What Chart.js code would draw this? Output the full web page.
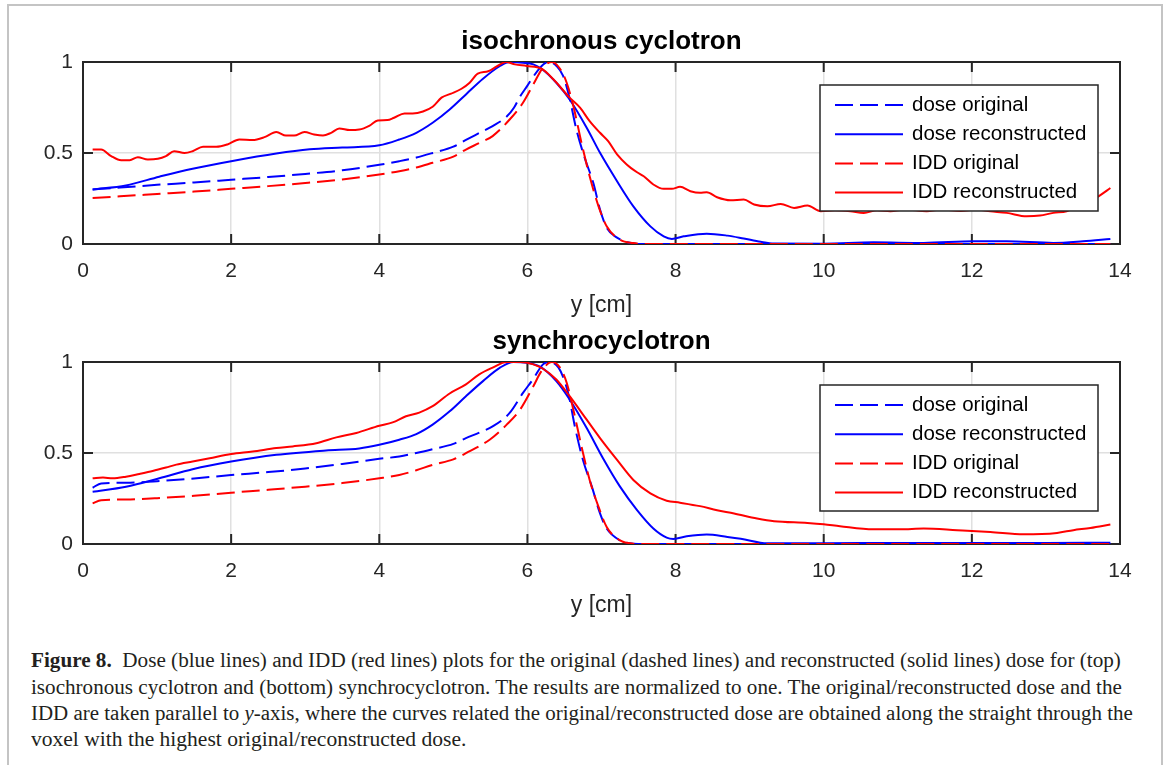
<!DOCTYPE html>
<html>
<head>
<meta charset="utf-8">
<title>Figure 8</title>
<script src="https://cdn.jsdelivr.net/npm/chart.js@4.4.1/dist/chart.umd.min.js"></script>
<style>
  html, body { margin: 0; padding: 0; background: #fff; }
  body { width: 1167px; height: 765px; position: relative; overflow: hidden; }
  #frame { position: absolute; left: 7px; top: 4px; width: 1152px; height: 800px; border: 2px solid #c4c4c4; }
  canvas { position: absolute; left: 0; }
  #isoChart { top: 0; }
  #syncChart { top: 300px; }
  .cap {
    position: absolute; left: 31px; white-space: pre; line-height: 1;
    font-family: 'Liberation Serif', 'Times New Roman', serif; font-size: 20px; color: #231f20;
    transform-origin: 0 50%;
  }
</style>
</head>
<body>
<div id="frame"></div>
<canvas id="isoChart" width="1167" height="325"></canvas>
<canvas id="syncChart" width="1167" height="325"></canvas>

<div class="cap" data-w="1090" style="top:650px"><b>Figure 8.</b>  Dose (blue lines) and IDD (red lines) plots for the original (dashed lines) and reconstructed (solid lines) dose for (top)</div>
<div class="cap" data-w="1091" style="top:677px">isochronous cyclotron and (bottom) synchrocyclotron. The results are normalized to one. The original/reconstructed dose and the</div>
<div class="cap" data-w="1102" style="top:703px">IDD are taken parallel to <i>y</i>-axis, where the curves related the original/reconstructed dose are obtained along the straight through the</div>
<div class="cap" data-w="435" style="top:729px">voxel with the highest original/reconstructed dose.</div>

<script>
// ---- data (y in cm, normalized value) ----
const xTicks = [0, 2, 4, 6, 8, 10, 12, 14];
const yTicks = [0, 0.5, 1];
const yTickLabels = ['0', '0.5', '1'];
const seriesLabels = ['dose original', 'dose reconstructed', 'IDD original', 'IDD reconstructed'];

// isochronous cyclotron
const isoDoseOrig = [[0.13,0.30],[0.5,0.31],[1.0,0.325],[1.5,0.338],[2.0,0.353],[2.5,0.368],[3.0,0.385],[3.5,0.405],[4.0,0.435],[4.27,0.455],[4.5,0.475],[4.72,0.50],[5.0,0.535],[5.17,0.572],[5.35,0.61],[5.53,0.648],[5.72,0.70],[5.82,0.75],[5.90,0.81],[6.0,0.87],[6.08,0.92],[6.21,0.985],[6.30,1.0],[6.40,0.975],[6.48,0.925],[6.57,0.80],[6.66,0.63],[6.78,0.465],[6.89,0.335],[6.98,0.19],[7.07,0.09],[7.21,0.035],[7.35,0.01],[7.5,0.0],[13.87,0.0]];
const isoDoseRec = [[0.13,0.30],[0.58,0.322],[1.03,0.37],[1.48,0.414],[2.0,0.455],[2.61,0.497],[3.06,0.52],[3.5,0.53],[4.0,0.542],[4.27,0.574],[4.5,0.611],[4.72,0.666],[4.95,0.739],[5.17,0.822],[5.40,0.908],[5.63,0.978],[5.76,1.0],[5.94,0.996],[6.08,0.987],[6.19,0.963],[6.39,0.886],[6.57,0.794],[6.80,0.639],[6.98,0.501],[7.21,0.345],[7.43,0.207],[7.66,0.097],[7.84,0.042],[7.95,0.028],[8.11,0.042],[8.42,0.057],[8.70,0.046],[8.92,0.03],[9.15,0.012],[9.33,0.003],[10.0,0.002],[10.67,0.009],[11.35,0.006],[12.02,0.015],[12.47,0.015],[13.1,0.006],[13.5,0.015],[13.87,0.028]];
const isoIddOrig = [[0.13,0.253],[0.5,0.262],[1.0,0.275],[1.5,0.288],[2.0,0.303],[2.5,0.318],[3.0,0.335],[3.5,0.355],[4.0,0.382],[4.27,0.40],[4.5,0.42],[4.72,0.446],[5.0,0.48],[5.17,0.519],[5.35,0.555],[5.53,0.593],[5.76,0.684],[5.94,0.776],[6.08,0.877],[6.21,0.969],[6.33,1.0],[6.44,0.963],[6.53,0.886],[6.62,0.758],[6.73,0.556],[6.84,0.372],[6.96,0.207],[7.07,0.097],[7.25,0.024],[7.43,0.005],[7.6,0.0],[13.87,0.0]];
const isoIddRec = [[0.13,0.519],[0.245,0.519],[0.38,0.483],[0.515,0.46],[0.63,0.46],[0.74,0.477],[0.875,0.464],[1.01,0.468],[1.12,0.483],[1.23,0.51],[1.37,0.50],[1.48,0.51],[1.62,0.534],[1.80,0.534],[1.95,0.547],[2.11,0.574],[2.29,0.571],[2.45,0.587],[2.61,0.615],[2.74,0.596],[2.85,0.596],[2.99,0.615],[3.12,0.602],[3.24,0.596],[3.35,0.611],[3.46,0.635],[3.60,0.626],[3.73,0.629],[3.87,0.651],[3.98,0.679],[4.11,0.681],[4.20,0.694],[4.34,0.717],[4.45,0.717],[4.59,0.728],[4.72,0.754],[4.84,0.804],[4.97,0.826],[5.11,0.853],[5.22,0.886],[5.33,0.936],[5.47,0.949],[5.58,0.974],[5.71,1.0],[5.83,0.987],[5.99,0.978],[6.19,0.963],[6.35,0.905],[6.57,0.804],[6.71,0.749],[6.84,0.675],[6.98,0.611],[7.09,0.565],[7.21,0.492],[7.34,0.437],[7.48,0.394],[7.57,0.372],[7.70,0.327],[7.84,0.303],[7.95,0.303],[8.06,0.314],[8.20,0.29],[8.33,0.281],[8.42,0.284],[8.56,0.257],[8.74,0.24],[8.92,0.244],[9.06,0.217],[9.24,0.207],[9.42,0.22],[9.60,0.198],[9.78,0.211],[9.96,0.18],[10.15,0.185],[10.36,0.18],[10.54,0.171],[10.72,0.185],[10.9,0.18],[11.1,0.19],[11.39,0.18],[11.6,0.19],[11.85,0.182],[12.05,0.19],[12.25,0.18],[12.47,0.171],[12.74,0.152],[12.92,0.156],[13.1,0.171],[13.28,0.18],[13.5,0.22],[13.71,0.262],[13.87,0.308]];

// synchrocyclotron
const syncDoseOrig = [[0.13,0.309],[0.245,0.333],[0.58,0.337],[1.0,0.345],[1.5,0.36],[2.0,0.379],[2.5,0.395],[3.0,0.415],[3.5,0.44],[4.0,0.468],[4.27,0.481],[4.5,0.50],[4.72,0.521],[5.0,0.55],[5.17,0.582],[5.35,0.612],[5.53,0.646],[5.76,0.72],[5.94,0.83],[6.08,0.908],[6.21,0.987],[6.30,1.0],[6.42,0.969],[6.51,0.886],[6.57,0.794],[6.64,0.646],[6.75,0.462],[6.87,0.315],[6.98,0.168],[7.07,0.085],[7.25,0.02],[7.43,0.002],[7.6,0.0],[13.87,0.0]];
const syncDoseRec = [[0.13,0.287],[0.58,0.315],[1.03,0.361],[1.48,0.411],[2.0,0.453],[2.61,0.49],[3.28,0.514],[3.73,0.525],[4.0,0.545],[4.27,0.573],[4.5,0.604],[4.72,0.656],[4.95,0.729],[5.17,0.812],[5.40,0.895],[5.63,0.969],[5.81,1.0],[5.99,0.996],[6.17,0.974],[6.39,0.895],[6.57,0.794],[6.80,0.637],[7.02,0.471],[7.25,0.315],[7.48,0.186],[7.70,0.085],[7.88,0.035],[7.97,0.028],[8.15,0.042],[8.42,0.052],[8.70,0.039],[8.88,0.029],[9.24,0.004],[10.0,0.004],[11.0,0.006],[12.0,0.005],[13.0,0.005],[13.87,0.007]];
const syncIddOrig = [[0.13,0.223],[0.245,0.241],[0.58,0.245],[1.0,0.252],[1.5,0.265],[2.0,0.282],[2.5,0.298],[3.0,0.315],[3.5,0.335],[4.0,0.361],[4.27,0.379],[4.5,0.405],[4.72,0.435],[5.0,0.465],[5.17,0.499],[5.49,0.573],[5.72,0.656],[5.90,0.738],[6.08,0.867],[6.19,0.95],[6.33,1.0],[6.44,0.969],[6.53,0.886],[6.62,0.738],[6.73,0.536],[6.84,0.352],[6.96,0.204],[7.07,0.094],[7.25,0.02],[7.43,0.002],[7.6,0.0],[13.87,0.0]];
const syncIddRec = [[0.13,0.361],[0.27,0.365],[0.40,0.361],[0.58,0.37],[0.76,0.385],[0.94,0.401],[1.12,0.42],[1.26,0.436],[1.48,0.453],[1.71,0.471],[2.0,0.494],[2.29,0.508],[2.61,0.527],[2.83,0.536],[3.15,0.554],[3.42,0.586],[3.69,0.61],[4.0,0.65],[4.18,0.668],[4.36,0.702],[4.54,0.722],[4.72,0.757],[4.95,0.827],[5.17,0.877],[5.35,0.932],[5.53,0.969],[5.72,1.0],[5.90,1.0],[6.08,0.987],[6.21,0.963],[6.39,0.904],[6.57,0.812],[6.80,0.683],[6.98,0.582],[7.21,0.462],[7.43,0.352],[7.66,0.278],[7.88,0.238],[8.06,0.227],[8.33,0.208],[8.56,0.186],[8.79,0.168],[9.10,0.14],[9.33,0.125],[9.78,0.116],[10.0,0.109],[10.22,0.098],[10.67,0.081],[11.03,0.081],[11.35,0.085],[11.8,0.076],[12.25,0.066],[12.7,0.053],[13.15,0.061],[13.37,0.076],[13.6,0.088],[13.87,0.107]];

const FONT = "'Liberation Sans', Arial, sans-serif";
const AXIS_COLOR = '#262626';
const DASH = [18, 7];

// matlab style box, inward ticks, centred title and an in-plot legend
const matlabAxes = {
  id: 'matlabAxes',
  beforeDatasetsDraw(chart) {
    const { ctx, chartArea: a, scales: { x, y } } = chart;
    ctx.save();
    ctx.strokeStyle = AXIS_COLOR;
    ctx.lineWidth = 2;
    ctx.strokeRect(a.left, a.top, a.right - a.left, a.bottom - a.top);
    ctx.beginPath();
    xTicks.forEach(v => {
      const px = x.getPixelForValue(v);
      ctx.moveTo(px, a.bottom); ctx.lineTo(px, a.bottom - 10);
      ctx.moveTo(px, a.top); ctx.lineTo(px, a.top + 10);
    });
    yTicks.forEach(v => {
      const py = y.getPixelForValue(v);
      ctx.moveTo(a.left, py); ctx.lineTo(a.left + 10, py);
      ctx.moveTo(a.right, py); ctx.lineTo(a.right - 10, py);
    });
    ctx.stroke();

    ctx.fillStyle = '#000';
    ctx.font = 'bold 26px ' + FONT;
    ctx.textAlign = 'center';
    ctx.textBaseline = 'middle';
    ctx.fillText(chart.options.plugins.matlabAxes.title, (a.left + a.right) / 2, a.top - 20);
    ctx.restore();
  },
  afterDatasetsDraw(chart) {
    const { ctx, chartArea: a } = chart;
    const bx = 820, by = a.top + 23, bw = 278, bh = 126;
    ctx.save();
    ctx.fillStyle = '#fff';
    ctx.fillRect(bx, by, bw, bh);
    ctx.strokeStyle = AXIS_COLOR;
    ctx.lineWidth = 1.5;
    ctx.strokeRect(bx, by, bw, bh);
    ctx.font = '20.5px ' + FONT;
    ctx.textBaseline = 'middle';
    chart.data.datasets.forEach((ds, i) => {
      const yy = by + 20 + i * 29.2;
      ctx.strokeStyle = ds.borderColor;
      ctx.lineWidth = ds.borderWidth;
      ctx.setLineDash(ds.borderDash || []);
      ctx.beginPath();
      ctx.moveTo(bx + 15, yy);
      ctx.lineTo(bx + 83, yy);
      ctx.stroke();
      ctx.setLineDash([]);
      ctx.fillStyle = '#000';
      ctx.fillText(ds.label, bx + 92, yy);
    });
    ctx.restore();
  }
};

function line(label, data, color, dashed, order) {
  return {
    label, data, order,
    borderColor: color,
    borderWidth: 2,
    borderDash: dashed ? DASH : [],
    showLine: true,
    pointRadius: 0,
    cubicInterpolationMode: 'monotone',
    fill: false
  };
}

function makeChart(id, title, doseOrig, doseRec, iddOrig, iddRec) {
  return new Chart(document.getElementById(id), {
    type: 'scatter',
    data: {
      datasets: [
        line(seriesLabels[0], doseOrig, '#0000ff', true, 4),
        line(seriesLabels[1], doseRec, '#0000ff', false, 3),
        line(seriesLabels[2], iddOrig, '#ff0000', true, 2),
        line(seriesLabels[3], iddRec, '#ff0000', false, 1)
      ]
    },
    options: {
      responsive: false,
      animation: false,
      devicePixelRatio: 1,
      layout: { padding: { left: 0, right: 47, top: 62, bottom: 0 } },
      plugins: {
        legend: { display: false },
        tooltip: { enabled: false },
        matlabAxes: { title }
      },
      scales: {
        x: {
          type: 'linear', min: 0, max: 14,
          afterBuildTicks: s => { s.ticks = xTicks.map(v => ({ value: v })); },
          afterFit: s => { s.height = 81; },
          ticks: { color: AXIS_COLOR, font: { family: FONT, size: 21 }, padding: 15, maxRotation: 0, callback: v => String(v) },
          grid: { color: '#e0e0e0', lineWidth: 1.5, drawTicks: false },
          border: { display: false },
          title: { display: true, text: 'y [cm]', color: AXIS_COLOR, font: { family: FONT, size: 23 }, padding: { top: 0, bottom: 6 } }
        },
        y: {
          min: 0, max: 1,
          afterBuildTicks: s => { s.ticks = yTicks.map(v => ({ value: v })); },
          afterFit: s => { s.width = 83; },
          ticks: { color: AXIS_COLOR, font: { family: FONT, size: 21 }, padding: 10, callback: (v, i) => yTickLabels[i] },
          grid: { color: '#e0e0e0', lineWidth: 1.5, drawTicks: false },
          border: { display: false }
        }
      }
    },
    plugins: [matlabAxes]
  });
}

makeChart('isoChart', 'isochronous cyclotron', isoDoseOrig, isoDoseRec, isoIddOrig, isoIddRec);
makeChart('syncChart', 'synchrocyclotron', syncDoseOrig, syncDoseRec, syncIddOrig, syncIddRec);

// stretch caption lines to the justified widths of the original
document.querySelectorAll('.cap').forEach(el => {
  const target = +el.dataset.w;
  el.style.transform = 'scaleX(' + (target / el.offsetWidth) + ')';
});
</script>
</body>
</html>
